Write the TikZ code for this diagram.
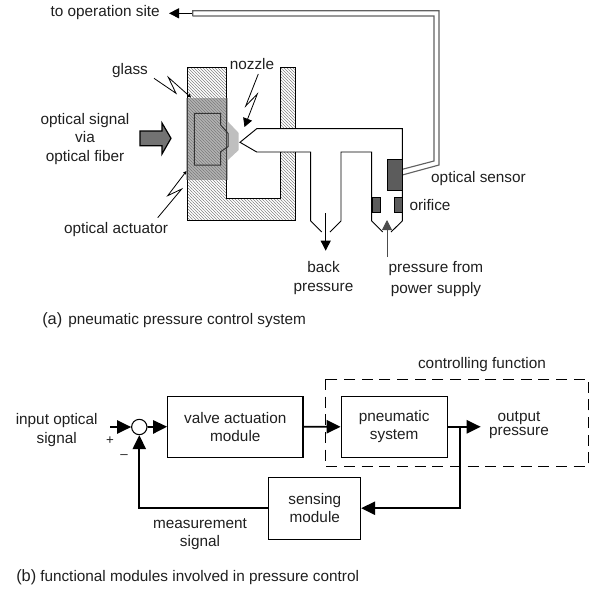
\documentclass[tikz,border=0pt]{standalone}
\usepackage{fontspec}
\setmainfont{Liberation Sans}
\usetikzlibrary{patterns.meta,arrows.meta}
\definecolor{dk}{gray}{0.12}
\definecolor{fib}{gray}{0.38}
\definecolor{blockgray}{gray}{0.36}
\tikzset{
  lbl/.style={font=\fontsize{11.5}{13.7}\selectfont,align=center,inner sep=0pt,text=dk},
  captext/.style={font=\fontsize{11.5}{13}\selectfont,inner sep=0pt,anchor=base west,text=dk},
  capl/.style={font=\fontsize{12.3}{13}\selectfont,inner sep=0pt,anchor=base west,text=dk},
  modbox/.style={draw=black,line width=0.8pt,inner sep=0pt,align=center,font=\fontsize{11.5}{13.7}\selectfont,text=dk},
  sig/.style={draw=black,line width=1.25pt,-{Triangle[length=10.5pt,width=10pt]}},
  thinarrow/.style={draw=black,line width=0.75pt,-{Triangle[length=7.5pt,width=7.5pt]}},
  pipe/.style={draw=black,line width=0.7pt},
  hatchfill/.style={draw=black,line width=0.7pt,pattern={Lines[angle=-45,distance=1.591pt,line width=0.3pt]},pattern color=black!50},
  zig/.style={draw=black,line width=0.6pt},
  tinytip/.style={-{Triangle[length=2.5pt,width=2.5pt]}},
  fiberline/.style={draw=fib,line width=0.85pt},
  solidblock/.style={draw=black,line width=0.75pt,fill=blockgray},
}
\begin{document}
\begin{tikzpicture}[x=0.75pt,y=-0.75pt]
\useasboundingbox (0,0) rectangle (615,597);
% ---------- (a)
\path[hatchfill] (187.5,67.5) -- (226,67.5) -- (226,198) -- (280,198) -- (280,67.5) -- (295,67.5) -- (295,220.7) -- (187.5,220.7) -- cycle;
\fill[black!55,opacity=0.55] (186,97.7) rectangle (228,180);
\fill[black!25] (228,121.7) -- (238.7,133) -- (238.7,150) -- (228,160) -- cycle;
\draw[draw=black!80,line width=0.75pt] (194.3,113.3) -- (220.7,113.3) -- (220.7,125) -- (228,133.3) -- (228,146.7) -- (220.7,151.7) -- (220.7,165) -- (194.3,165) -- cycle;
% fibre
\coordinate (fiberend) at (192.7,13.3);
\coordinate (fibertip) at (169,13.3);
\node[lbl,anchor=east] (site) at (160,13) {to operation site};
\draw[thinarrow] (fiberend) -- (fibertip);
\draw[fiberline] (192.7,16) -- (192.7,10.7) -- (439,10.7) -- (439,165) -- (402.3,175);
\draw[fiberline] (192.7,16) -- (434,16) -- (434,161) -- (402.3,169.3);
% big arrow
\draw[line width=0.9pt,draw=black,fill=black!55] (140,131) -- (162,131) -- (162,123) -- (171,138.3) -- (162,154) -- (162,145.7) -- (140,145.7) -- cycle;
% pipes
\fill[white] (257,129) rectangle (296,152);
\draw[pipe] (402.3,221) -- (402.3,128.7) -- (256.7,128.7) -- (240,142.3) -- (256.7,152) -- (310.7,152) -- (310.7,221) -- (321.7,232);
\draw[pipe] (330,232) -- (341,221) -- (341,152) -- (371.7,152) -- (371.7,221) -- (382.7,232);
\draw[pipe] (402.3,221) -- (391,232);
\draw[solidblock] (387.3,159.3) rectangle (402.3,190.3);
\draw[solidblock] (372.7,197) rectangle (380.7,212.3);
\draw[solidblock] (394.7,197) rectangle (402.3,212.3);
\draw[thinarrow] (325.7,213) -- (325.7,250.7);
\draw[thinarrow,draw=black!70] (387,257) -- (387,220);
% zigzags
\draw[zig,tinytip] (154,78.3) -- (176,93.3) -- (168.3,77.3) -- (191,97.5);
\draw[zig,-{Triangle[length=6.5pt,width=7pt]}] (258.3,74) -- (245.7,106) -- (257.3,94) -- (244.5,127);
\draw[zig,tinytip] (157.7,217.7) -- (181.7,189) -- (167.7,195.7) -- (186.5,171);
% labels
\node[lbl] (glass) at (130,71) {glass};
\node[lbl] (nozzle) at (252,64) {nozzle};
\node[lbl] (osig) at (85,139) {optical signal\\via\\optical fiber};
\node[lbl] (oact) at (116,230) {optical actuator};
\node[lbl] (osens) at (478.5,179) {optical sensor};
\node[lbl] (orif) at (430,205.5) {orifice};
\node[lbl] (back) at (323.5,278) {back\\pressure};
\node[lbl] (ps) at (436,279.5) {pressure from\\[2pt]power supply};
\node[capl] (capa) at (42,324) {(a)};
\node[captext] (capat) at (68,324) {pneumatic pressure control system};
% ---------- (b)
\node[modbox,minimum width=101.5pt,minimum height=46pt] (valve) at (235.3,426.7) {valve actuation\\module};
\node[modbox,minimum width=79.7pt,minimum height=46pt] (pneu) at (394.2,426.8) {pneumatic\\system};
\node[modbox,minimum width=68.8pt,minimum height=46.3pt] (sens) at (314.8,508.2) {sensing\\module};
\node[draw=black,line width=0.8pt,circle,minimum size=11.5pt,inner sep=0pt] (sum) at (139.3,427) {};
\coordinate (insig) at (110,427);
\coordinate (outtip) at (480.7,426.8);
\coordinate (branch) at (460.3,426.8);
\coordinate (fbend) at (139.3,512.7);
\draw[dash pattern=on 8.25pt off 5pt,line width=0.7pt] (325,379) rectangle (588.7,466);
\node[lbl] (ctrl) at (482,365) {controlling function};
\node[lbl,font=\fontsize{11.5}{10.5}\selectfont] (outp) at (519,425) {output\\pressure};
\node[lbl] (insigt) at (56.7,430) {input optical\\signal};
\node[lbl] (measig) at (200,534) {measurement\\signal};
\node[lbl,font=\fontsize{10}{12}\selectfont] (plus) at (110,441) {+};
\node[lbl,font=\fontsize{10}{12}\selectfont] (minus) at (124,457) {–};
\draw[sig] (insig) -- (sum.west);
\draw[sig] (sum.east) -- (valve.west);
\draw[sig] (valve.east) -- (pneu.west);
\draw[sig] (pneu.east) -- (outtip);
\draw[sig] (branch) |- (sens.east);
\draw[sig] (sens.west) -- (sens.west -| fbend) -- (sum.south);
\node[capl] (capb) at (16,581.7) {(b)};
\node[captext] (capbt) at (40,581.7) {functional modules involved in pressure control};
\end{tikzpicture}
\end{document}
